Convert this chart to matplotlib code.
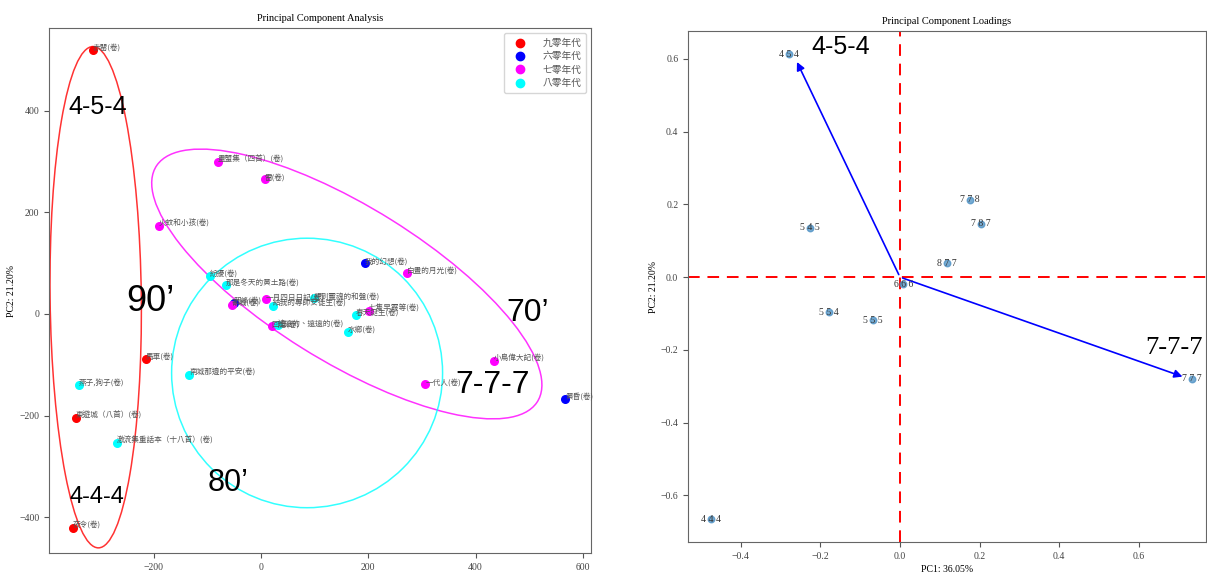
import numpy as np
import matplotlib
matplotlib.use('Agg')
import matplotlib.pyplot as plt
from matplotlib.patches import Ellipse
from matplotlib.lines import Line2D

plt.rcParams['font.family'] = ['Liberation Serif', 'Noto Sans CJK TC']
cjk = ['Noto Sans CJK TC', 'DejaVu Sans']

# --- PCA scores (left) ---
decades = ['九零年代', '六零年代', '七零年代', '八零年代']
colors = ['red', 'blue', 'magenta', 'cyan']

names_90 = ['赤罌(卷)', '馬車(卷)', '東遊城（八首）(卷)', '夜令(卷)']
pc1_90 = [-313, -214, -345, -350]
pc2_90 = [519, -88, -204, -420]

names_60 = ['我的幻想(卷)', '黄昏(卷)', '起峰(卷)']
pc1_60 = [194, 567, -50]
pc2_60 = [100, -167, 22]

names_70 = ['畫蟹集（四首）(卷)', '雷(卷)', '火蚊和小孩(卷)', '白晝的月光(卷)', '七隻早霞等(卷)',
            '小鳥偉大記(卷)', '一代人(卷)', '一月四日日記(卷)', '都城(卷)', '回憶(卷)']
pc1_70 = [-80, 7, -190, 272, 201, 434, 306, 9, -54, 20]
pc2_70 = [299, 265, 173, 81, 6, -92, -138, 29, 18, -24]

names_80 = ['紛擾(卷)', '那是冬天的黄土路(卷)', '給我的專師安徒生(卷)', '想到靈魂的和盤(卷)',
            '遙遠的、遠遠的(卷)', '春天誕生(卷)', '水鄉(卷)', '燕子,狗子(卷)',
            '南城那邊的平安(卷)', '激流集重話本（十八首）(卷)']
pc1_80 = [-95, -65, 22, 99, 32, 177, 162, -339, -134, -268]
pc2_80 = [75, 57, 16, 31, -22, -2, -35, -139, -120, -253]

# ellipses: center x, center y, width, height, angle
ell_colors = ['red', 'magenta', 'cyan']
ell_cx = [-308, 160, 86]
ell_cy = [33, 59, -116]
ell_w = [170, 848, 505]
ell_h = [986, 302, 530]
ell_ang = [0.6, -33.4, 0]

big_text = ['4-5-4', '4-4-4', "90’", "80’", "70’", '7-7-7']
big_x = [-304, -306, -207, -62, 498, 431]
big_y = [407, -360, 24, -332, 2, -139]
big_size = [18, 17, 26, 22, 23, 23]

# --- loadings (right) ---
load_names = ['4 5 4', '5 4 5', '7 7 8', '7 8 7', '8 7 7', '6 6 6', '5 5 4', '5 5 5', '7 7 7', '4 4 4']
load_x = [-0.279, -0.226, 0.176, 0.204, 0.118, 0.008, -0.178, -0.068, 0.734, -0.475]
load_y = [0.613, 0.135, 0.212, 0.146, 0.038, -0.019, -0.096, -0.118, -0.280, -0.665]
arrow_x = [-0.262, 0.717]
arrow_y = [0.598, -0.276]

fig = plt.figure(figsize=(12.07, 5.76), dpi=100)
ax1 = fig.add_axes([0.0406, 0.040, 0.449, 0.911])
ax2 = fig.add_axes([0.570, 0.059, 0.429, 0.887])

groups = [(names_90, pc1_90, pc2_90), (names_60, pc1_60, pc2_60),
          (names_70, pc1_70, pc2_70), (names_80, pc1_80, pc2_80)]
for (names, xs, ys), c in zip(groups, colors):
    ax1.scatter(xs, ys, s=30, color=c, zorder=3)
    for n, x, y in zip(names, xs, ys):
        ax1.text(x, y, n, fontsize=5.5, color='#555555', family=cjk, zorder=4)

for i in range(3):
    e = Ellipse((ell_cx[i], ell_cy[i]), ell_w[i], ell_h[i], angle=ell_ang[i],
                fill=False, edgecolor=ell_colors[i], lw=1.1, alpha=0.8, zorder=2)
    ax1.add_patch(e)

for t, x, y, s in zip(big_text, big_x, big_y, big_size):
    ax1.text(x, y, t, fontsize=s, family='Liberation Sans', ha='center', va='center', zorder=5)

handles = [Line2D([], [], marker='o', ls='', color=c, markersize=6) for c in colors]
leg = ax1.legend(handles, decades, loc='upper right', prop={'family': cjk, 'size': 7},
                 handlelength=2.2, borderpad=0.5, labelspacing=0.35, handletextpad=1.2)
for t in leg.get_texts():
    t.set_color('#555555')
ax1.set_xlim(-395, 615)
ax1.set_ylim(-470, 562)
ax1.set_xticks([-200, 0, 200, 400, 600])
ax1.set_yticks([-400, -200, 0, 200, 400])
ax1.set_title('Principal Component Analysis', fontsize=7.5, pad=5)
ax1.set_xlabel('PC1: 36.05%', fontsize=7, labelpad=3)
ax1.set_ylabel('PC2: 21.20%', fontsize=7, labelpad=2)
ax1.tick_params(labelsize=7, color='#555555', labelcolor='#444444')

# right: loadings
ax2.axhline(0, color='red', ls=(0, (6, 4)), lw=1.4, zorder=1)
ax2.axvline(0, color='red', ls=(0, (6, 4)), lw=1.4, zorder=1)
ax2.scatter(load_x, load_y, s=22, color='#4a8fc4', alpha=0.75, zorder=3)
for n, x, y in zip(load_names, load_x, load_y):
    ax2.text(x, y, n, fontsize=7, color='#333333', ha='center', va='center', zorder=4)
for x, y in zip(arrow_x, arrow_y):
    ax2.annotate('', xy=(x, y), xytext=(0, 0),
                 arrowprops=dict(arrowstyle='-|>', color='blue', lw=1.2, mutation_scale=12))
ax2.text(-0.15, 0.632, '4-5-4', fontsize=18, family='Liberation Sans', ha='center', va='center')
ax2.text(0.69, -0.195, '7-7-7', fontsize=19, family='Liberation Serif', ha='center', va='center')
ax2.set_xlim(-0.533, 0.769)
ax2.set_ylim(-0.728, 0.676)
ax2.set_xticks([-0.4, -0.2, 0.0, 0.2, 0.4, 0.6])
ax2.set_yticks([-0.6, -0.4, -0.2, 0.0, 0.2, 0.4, 0.6])
ax2.set_title('Principal Component Loadings', fontsize=7.5, pad=5)
ax2.set_xlabel('PC1: 36.05%', fontsize=7, labelpad=3)
ax2.set_ylabel('PC2: 21.20%', fontsize=7, labelpad=2)
ax2.tick_params(labelsize=7, color='#555555', labelcolor='#444444')

for ax in (ax1, ax2):
    for sp in ax.spines.values():
        sp.set_color('#666666')

plt.savefig('out.png', dpi=100)
